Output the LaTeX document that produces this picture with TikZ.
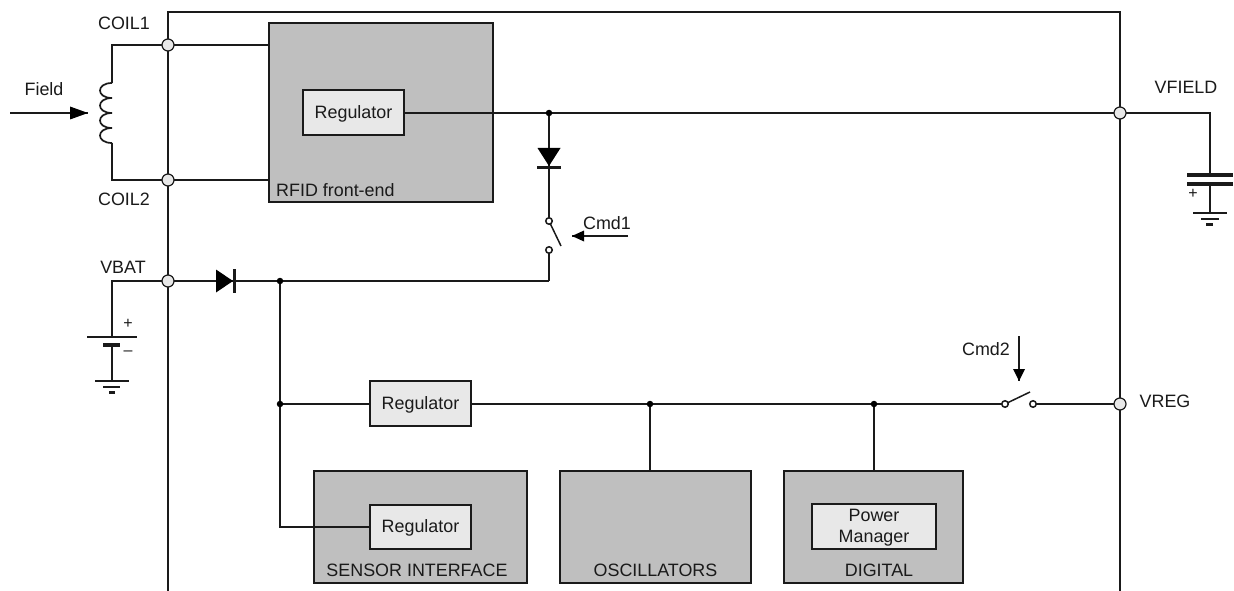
\documentclass[tikz,border=0pt]{standalone}
\usepackage{fontspec}
\setmainfont{Liberation Sans}
\definecolor{ink}{HTML}{1A1A1A}
\definecolor{blockgrey}{HTML}{BFBFBF}
\definecolor{innergrey}{HTML}{E8E8E8}
\tikzset{
  wire/.style={draw=ink,line width=1.2pt},
  thickbar/.style={draw=ink,line width=#1,line cap=butt},
  blockbox/.style={draw=ink,line width=1.3pt,fill=blockgrey,inner sep=0pt},
  regbox/.style={draw=ink,line width=1.2pt,fill=innergrey,inner sep=0pt},
  pin/.style={circle,draw=ink,line width=1.2pt,fill=innergrey,minimum size=12pt,inner sep=0pt},
  junction/.style={circle,fill=black,minimum size=6.5pt,inner sep=0pt},
  swpoint/.style={circle,draw=ink,line width=1.5pt,fill=white,minimum size=6.5pt,inner sep=0pt},
  label/.style={inner sep=0pt,text=ink,font=\fontsize{17.9}{21}\selectfont,align=center},
  tiny/.style={inner sep=0pt,text=ink,font=\fontsize{16}{18}\selectfont},
}
\begin{document}
\begin{tikzpicture}[x=1pt,y=-1pt]
\useasboundingbox (0,0) rectangle (1234,591);
\fill[white] (0,0) rectangle (1234,591);
% named points
\coordinate (chipBL) at (168,591);
\coordinate (chipTL) at (168,12);
\coordinate (chipTR) at (1120,12);
\coordinate (chipBR) at (1120,591);
\coordinate (pCoil1) at (168,45);
\coordinate (pCoil2) at (168,180);
\coordinate (pBat) at (168,281);
\coordinate (pField) at (1120,113);
\coordinate (pReg) at (1120,404);
\coordinate (jA) at (549,113);
\coordinate (jB) at (280,281);
\coordinate (jC) at (280,404);
\coordinate (jD) at (650,404);
\coordinate (jE) at (874,404);
% chip outline
\draw[wire] (chipBL) -- (chipTL) -- (chipTR) -- (chipBR);
% blocks
\node[blockbox,minimum width=224pt,minimum height=179pt] (rfid) at (381,112.5) {};
\node[regbox,minimum width=101pt,minimum height=45pt] (reg1) at (353.5,112.5) {};
\node[label] (reg1label) at (353.5,113.5) {Regulator};
\node[label,anchor=west] (rfidlabel) at (276,190) {RFID front-end};
\node[regbox,minimum width=101pt,minimum height=45pt] (reg2) at (420.5,403.5) {};
\node[label] (reg2label) at (420.5,404.5) {Regulator};
\node[blockbox,minimum width=213pt,minimum height=112pt] (sensor) at (420.5,527) {};
\node[regbox,minimum width=101pt,minimum height=44pt] (reg3) at (420.5,527) {};
\node[label] (reg3label) at (420.5,527.5) {Regulator};
\node[label] (sensorlabel) at (417,570) {SENSOR INTERFACE};
\node[blockbox,minimum width=191pt,minimum height=112pt] (osc) at (655.5,527) {};
\node[label] (osclabel) at (655.5,570) {OSCILLATORS};
\node[blockbox,minimum width=179pt,minimum height=112pt] (digital) at (873.5,527) {};
\node[regbox,minimum width=124pt,minimum height=45pt] (pm) at (874,526.5) {};
\node[label] (pmlabel) at (874,527.5) {Power\\Manager};
\node[label] (digitallabel) at (879,570) {DIGITAL};
% coil
\coordinate (coilT) at (112,83);
\coordinate (coilB) at (112,143);
\draw[wire,line width=1.7pt] (coilT)
  .. controls (96,83) and (96,98) .. (112,98)
  .. controls (96,98) and (96,113) .. (112,113)
  .. controls (96,113) and (96,128) .. (112,128)
  .. controls (96,128) and (96,143) .. (112,143);
\draw[wire] (pCoil1) -| (coilT);
\draw[wire] (pCoil2) -| (coilB);
\draw[wire] (pCoil1) -- (pCoil1 -| rfid.west);
\draw[wire] (pCoil2) -- (pCoil2 -| rfid.west);
\node[label] (coil1label) at (124,23) {COIL1};
\node[label] (coil2label) at (124,199) {COIL2};
% field arrow
\coordinate (fieldS) at (10,113);
\coordinate (fieldE) at (88,113);
\draw[wire] (fieldS) -- (fieldE);
\fill[black] (fieldE) -- (70,106.5) -- (70,119.5) -- cycle;
\node[label] (fieldlabel) at (44,89) {Field};
% VFIELD rail
\coordinate (capA) at (1210,175);
\coordinate (capB) at (1210,184);
\coordinate (gndF) at (1210,213);
\draw[wire] (reg1.east |- pField) -- (pField);
\draw[wire] (pField) -| (capA);
\draw[thickbar=4.5pt] (1187,175) -- (1233,175);
\draw[thickbar=4.5pt] (1187,184) -- (1233,184);
\draw[wire] (capB) -- (gndF);
\draw[thickbar=2pt] (1193,213) -- (1227,213);
\draw[thickbar=2pt] (1201,219) -- (1219,219);
\draw[thickbar=2.5pt] (1206,224.5) -- (1213,224.5);
\node[tiny] (capplus) at (1193,193.5) {+};
\node[label] (vfield) at (1186,87) {VFIELD};
% switch 1 branch
\coordinate (sw1a) at (549,221);
\coordinate (sw1b) at (549,250);
\coordinate (sw1c) at (549,281);
\draw[wire] (jA) -- (sw1a);
\fill[black] (537.5,148) -- (560.5,148) -- (549,166) -- cycle;
\draw[thickbar=3pt] (537,167) -- (561,167);
\draw[wire,line width=1.5pt] (sw1a) -- (561,246);
\draw[wire] (sw1b) -- (sw1c);
\node[swpoint] (sw1an) at (sw1a) {};
\node[swpoint] (sw1bn) at (sw1b) {};
\draw[wire] (pBat) -- (sw1c);
\coordinate (cmd1S) at (628,236);
\coordinate (cmd1E) at (572,236);
\draw[wire] (cmd1S) -- (cmd1E);
\fill[black] (cmd1E) -- (584,230.5) -- (584,241.5) -- cycle;
\node[label] (cmd1) at (607,223) {Cmd1};
% VBAT
\node[label] (vbat) at (123,267) {VBAT};
\coordinate (batP) at (112,337);
\coordinate (batN) at (112,345);
\coordinate (gndB) at (112,381);
\draw[wire] (pBat) -| (batP);
\draw[thickbar=2.5pt] (87,337) -- (137,337);
\draw[thickbar=4pt] (103,345) -- (120,345);
\draw[wire] (batN) -- (gndB);
\draw[thickbar=2pt] (95,381) -- (129,381);
\draw[thickbar=2pt] (103,387) -- (120,387);
\draw[thickbar=2.5pt] (109,392.5) -- (115,392.5);
\node[tiny] (batplus) at (128,324) {+};
\node[tiny] (batminus) at (128,353) {–};
% bat diode
\fill[black] (216,269.5) -- (216,292.5) -- (233,281) -- cycle;
\draw[thickbar=3pt] (234,269) -- (234,293);
% bus
\coordinate (sw2a) at (1005,404);
\coordinate (sw2b) at (1033,404);
\draw[wire] (jB) -- (jC);
\draw[wire] (jC) |- (reg3.west);
\draw[wire] (jC) -- (jC -| reg2.west);
\draw[wire] (jC -| reg2.east) -- (sw2a);
\draw[wire] (sw2b) -- (pReg);
\draw[wire] (jD) -- (jD |- osc.north);
\draw[wire] (jE) -- (jE |- digital.north);
\draw[wire,line width=1.5pt] (sw2a) -- (1030,392);
\node[swpoint] (sw2an) at (sw2a) {};
\node[swpoint] (sw2bn) at (sw2b) {};
\coordinate (cmd2S) at (1019,336);
\coordinate (cmd2E) at (1019,381);
\draw[wire] (cmd2S) -- (cmd2E);
\fill[black] (cmd2E) -- (1013,369) -- (1025,369) -- cycle;
\node[label] (cmd2) at (986,349) {Cmd2};
\node[label] (vreg) at (1165,401) {VREG};
% junction dots and pins on top
\foreach \j in {jA,jB,jC,jD,jE} \node[junction] (\j n) at (\j) {};
\foreach \p in {pCoil1,pCoil2,pBat,pField,pReg} \node[pin] (\p n) at (\p) {};
\end{tikzpicture}
\end{document}
